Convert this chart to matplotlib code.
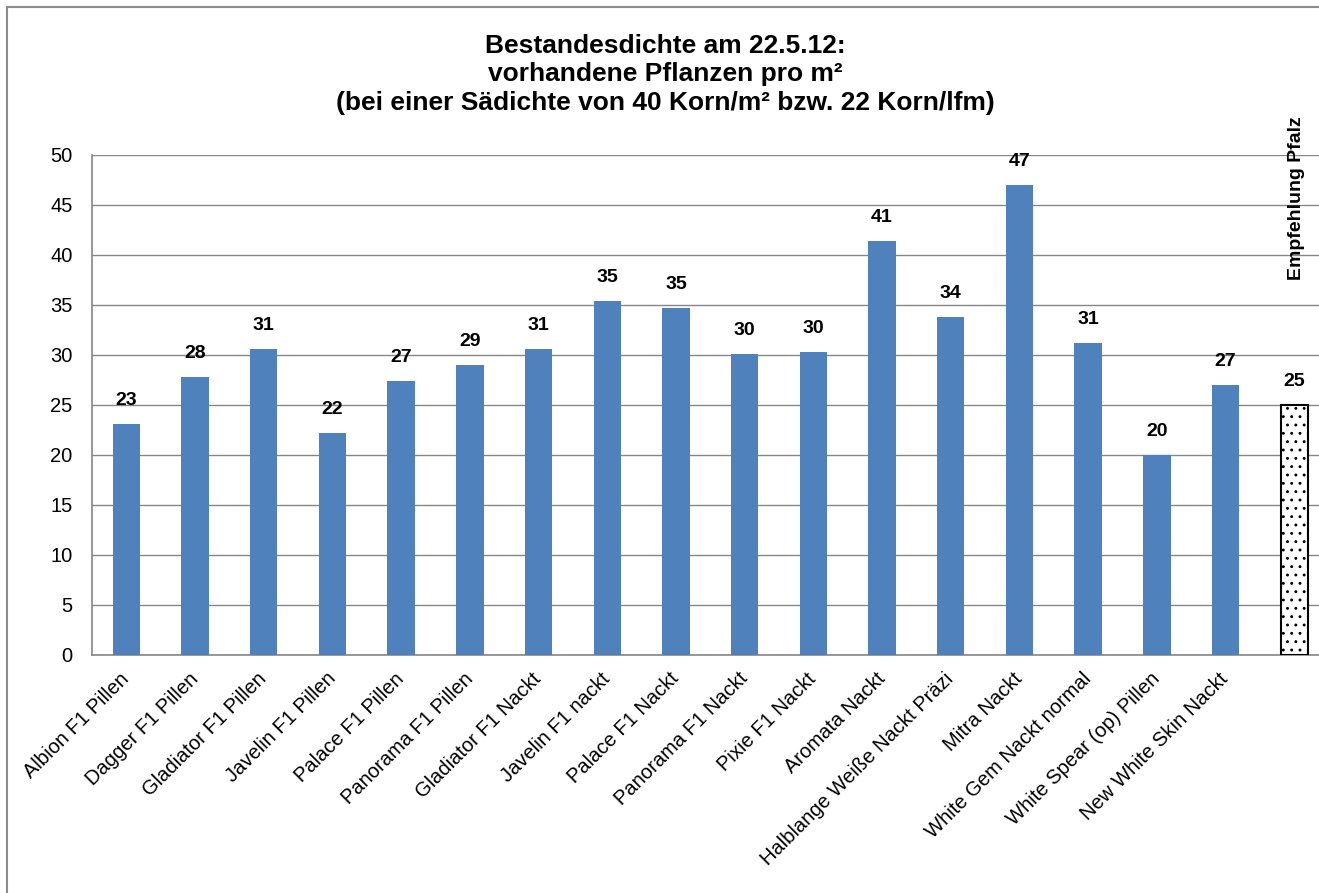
#!/usr/bin/env python3
import matplotlib
matplotlib.use("Agg")
import matplotlib.pyplot as plt
from matplotlib.lines import Line2D

plt.rcParams['font.family'] = ['Liberation Sans', 'DejaVu Sans']
plt.rcParams['hatch.linewidth'] = 0.9

sorten = [
    "Albion F1 Pillen", "Dagger F1 Pillen", "Gladiator F1 Pillen", "Javelin F1 Pillen",
    "Palace F1 Pillen", "Panorama F1 Pillen", "Gladiator F1 Nackt", "Javelin F1 nackt",
    "Palace F1 Nackt", "Panorama F1 Nackt", "Pixie F1 Nackt", "Aromata Nackt",
    "Halblange Weiße Nackt Präzi", "Mitra Nackt", "White Gem Nackt normal",
    "White Spear (op) Pillen", "New White Skin Nackt",
]
pflanzen = [23.1, 27.8, 30.6, 22.2, 27.4, 29.0, 30.6, 35.4, 34.7, 30.1, 30.3,
            41.4, 33.8, 47.0, 31.2, 20.0, 27.0]
empfehlung_label = "Empfehlung Pfalz"
empfehlung = 25

W, H = 1319, 893
fig = plt.figure(figsize=(W / 100, H / 100), dpi=100)

# Rahmen nur oben und links sichtbar
fig.lines.append(Line2D([6.5 / W, 6.5 / W], [0, 1 - 7 / H], transform=fig.transFigure,
                        color='#8c8c8c', linewidth=1.5))
fig.lines.append(Line2D([6.5 / W, 1], [1 - 7 / H, 1 - 7 / H], transform=fig.transFigure,
                        color='#8c8c8c', linewidth=1.5))

spacing = 68.7
left_px, right_px = 92, W
ax = fig.add_axes([left_px / W, (H - 655) / H, (right_px - left_px) / W, 500 / H])

x = list(range(len(sorten)))
ax.bar(x, pflanzen, width=0.4, color='#4F81BD', zorder=3)
ax.bar([len(sorten)], [empfehlung], width=0.4, color='white', edgecolor='black',
       hatch='..', linewidth=1.5, zorder=3)

for xi, v in zip(x + [len(sorten)], pflanzen + [empfehlung]):
    ax.text(xi, v + 1.5, f"{v:.0f}", ha='center', va='bottom',
            fontsize=14, fontweight='bold')

ax.text(len(sorten) + 0.04, 45.7, empfehlung_label, rotation=90, ha='center',
        va='center', fontsize=14, fontweight='bold')

ax.set_xlim(-0.5, -0.5 + (right_px - left_px) / spacing)
ax.set_ylim(0, 50)
ax.set_yticks(range(0, 51, 5))
ax.yaxis.grid(True, color='#868686', linewidth=1, zorder=0)
ax.set_axisbelow(True)
ax.set_xticks(x)
ax.set_xticklabels(sorten, rotation=45, ha='right', va='center',
                   rotation_mode='anchor', fontsize=14.5)
ax.tick_params(axis='x', length=0, pad=15)
ax.tick_params(axis='y', length=0, labelsize=14.5, pad=14)
for s in ['top', 'right']:
    ax.spines[s].set_visible(False)
for s in ['left', 'bottom']:
    ax.spines[s].set_color('#868686')
    ax.spines[s].set_linewidth(1.2)

titel = [
    "Bestandesdichte am 22.5.12:",
    "vorhandene Pflanzen pro m²",
    "(bei einer Sädichte von 40 Korn/m² bzw. 22 Korn/lfm)",
]
for zeile, y_px in zip(titel, [46, 74, 103]):
    fig.text(665 / W, 1 - y_px / H, zeile, ha='center', va='center',
             fontsize=19, fontweight='bold')

fig.savefig("out.png", dpi=100)
